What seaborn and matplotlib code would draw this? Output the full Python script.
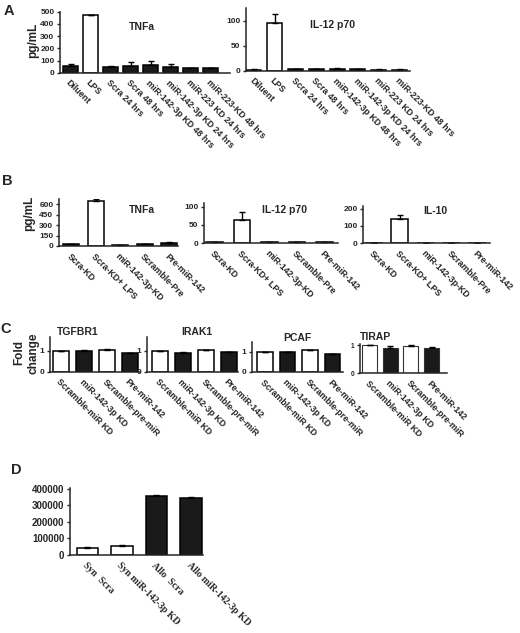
import numpy as np
import pandas as pd
import matplotlib
matplotlib.use("Agg")
import matplotlib.pyplot as plt
import seaborn as sns

sns.set_theme(style="ticks")
plt.rcParams['font.family'] = ['Liberation Sans', 'DejaVu Sans']
plt.rcParams['font.weight'] = 'bold'

# ---------------- data ----------------
a_cats = ["Diluent", "LPS", "Scra 24 hrs", "Scra 48 hrs", "miR-142-3p KD 48 hrs",
          "miR-142-3p KD 24 hrs", "miR-223 KD 24 hrs", "miR-223-KD 48 hrs"]
a_tnf = [58, 470, 43, 58, 62, 47, 35, 38]
a_tnf_err = [10, 6, 8, 28, 30, 22, 3, 4]
a_il12 = [2, 95, 3, 3, 4, 3, 2, 2]
a_il12_err = [0.5, 18, 0.5, 0.5, 0.5, 0.5, 0.5, 0.5]
a_fill = ["k", "w", "k", "k", "k", "k", "k", "k"]

b_cats = ["Scra-KD", "Scra-KD+ LPS", "miR-142-3p-KD", "Scramble-Pre", "Pre-miR-142"]
b_tnf = [30, 645, 15, 25, 45]
b_tnf_err = [5, 20, 3, 5, 10]
b_il12 = [3, 63, 3, 2, 2]
b_il12_err = [0.5, 23, 1, 0.5, 0.5]
b_il10 = [0, 140, 0, 0, 0]
b_il10_err = [0, 20, 0, 0, 0]
b_fill = ["k", "w", "k", "k", "k"]

c_cats = ["Scramble-miR KD", "miR-142-3p KD", "Scramble-pre-miR", "Pre-miR-142"]
c_tgfbr1 = [1.0, 0.98, 1.03, 0.88]
c_tgfbr1_err = [0.0, 0.03, 0.03, 0.02]
c_irak1 = [1.0, 0.90, 1.02, 0.92]
c_irak1_err = [0.0, 0.03, 0.03, 0.02]
c_pcaf = [1.0, 0.98, 1.08, 0.88]
c_pcaf_err = [0.0, 0.03, 0.04, 0.02]
c_tirap = [1.0, 0.90, 0.97, 0.90]
c_tirap_err = [0.0, 0.07, 0.02, 0.02]
c_fill = ["w", "k", "w", "k"]

d_cats = ["Syn  Scra", "Syn miR-142-3p KD", "Allo  Scra", "Allo miR-142-3p KD"]
d_vals = [45000, 52000, 358000, 342000]
d_err = [3000, 10000, 3000, 7000]
d_fill = ["w", "w", "k", "k"]

# ---------------- layout ----------------
W, H = 520, 633
fig = plt.figure(figsize=(W / 100, H / 100), dpi=100)


def make_ax(x0, x1, ytop, ybot):
    return fig.add_axes([x0 / W, 1 - ybot / H, (x1 - x0) / W, (ybot - ytop) / H])


def panel(box, cats, vals, errs, fills, xlim, ylim, yticks, width, tick_fs=6.0,
          lab_fs=6.4, lab_family=None, edge_lw=1.1, edge_col="black"):
    ax = make_ax(*box)
    df = pd.DataFrame({"cat": cats, "val": vals})
    pal = {c: f for c, f in zip(cats, fills)}
    sns.barplot(data=df, x="cat", y="val", hue="cat", palette=pal, legend=False,
                edgecolor=edge_col, linewidth=edge_lw, width=width, ax=ax,
                errorbar=None, saturation=1)
    x = np.arange(len(cats))
    ax.errorbar(x, vals, yerr=[np.zeros(len(vals)), errs], fmt="none",
                ecolor="black", elinewidth=1.0, capsize=2.5, capthick=1.0)
    ax.set_xlim(*xlim)
    ax.set_ylim(*ylim)
    ax.set_yticks(yticks)
    ax.set_xticks(x)
    kw = dict(rotation=-45, ha="left", va="top", rotation_mode="anchor",
              fontsize=lab_fs, fontweight="bold")
    if lab_family:
        kw["family"] = lab_family
    ax.set_xticklabels(cats, **kw)
    ax.set_xlabel("")
    ax.set_ylabel("")
    for s in ["top", "right"]:
        ax.spines[s].set_visible(False)
    for s in ["left", "bottom"]:
        ax.spines[s].set_linewidth(1.1)
    ax.tick_params(axis="y", length=2.5, width=1.0, pad=1.5, labelsize=tick_fs)
    ax.tick_params(axis="x", length=0, pad=4)
    for t in ax.get_yticklabels():
        t.set_fontweight("bold")
    ax.set_facecolor("none")
    return ax


# Panel A
panel((60, 230, 11.7, 72.7), a_cats, a_tnf, a_tnf_err, a_fill,
      (-0.53, 7.95), (0, 500), [0, 100, 200, 300, 400, 500], 0.75)
panel((246, 410, 8, 70.7), a_cats, a_il12, a_il12_err, a_fill,
      (-0.38, 7.5), (0, 125), [0, 50, 100], 0.72)

# Panel B
panel((59, 178, 199, 246), b_cats, b_tnf, b_tnf_err, b_fill,
      (-0.51, 4.37), (0, 672), [0, 150, 300, 450, 600], 0.66)
panel((204, 338, 203, 243), b_cats, b_il12, b_il12_err, b_fill,
      (-0.38, 4.5), (0, 110), [0, 50, 100], 0.6)
panel((363, 490, 206, 243), b_cats, b_il10, b_il10_err, b_fill,
      (-0.43, 4.5), (0, 215), [0, 100, 200], 0.67)

# Panel C
panel((50, 140, 337, 371.7), c_cats, c_tgfbr1, c_tgfbr1_err, c_fill,
      (-0.5, 3.46), (0, 1.65), [0, 1], 0.7)
panel((147, 238, 337, 371.7), c_cats, c_irak1, c_irak1_err, c_fill,
      (-0.56, 3.4), (0, 1.65), [0, 1], 0.7)
panel((252, 343, 342, 372), c_cats, c_pcaf, c_pcaf_err, c_fill,
      (-0.58, 3.47), (0, 1.5), [0, 1], 0.7)
panel((360, 447, 344, 373), c_cats, c_tirap, c_tirap_err, c_fill,
      (-0.46, 3.75), (0, 1.04), [0, 1], 0.72, tick_fs=4.8, edge_lw=0.8,
      edge_col="#333333")

# Panel D
panel((70, 203, 488, 555), d_cats, d_vals, d_err, d_fill,
      (-0.5, 3.35), (0, 405000), [0, 100000, 200000, 300000, 400000], 0.62,
      tick_fs=7.0, lab_fs=7.0, lab_family=["Liberation Serif", "DejaVu Serif"])

# ---------------- texts ----------------
def ftext(x, y, s, fs, **kw):
    fig.text(x / W, 1 - y / H, s, fontsize=fs, fontweight="bold",
             ha=kw.pop("ha", "center"), va=kw.pop("va", "center"), **kw)

ftext(9, 11, "A", 10.5)
ftext(7, 181, "B", 10.5)
ftext(6, 329, "C", 10.5)
ftext(16, 470, "D", 10.5)

ftext(33, 40, "pg/mL", 8.5, rotation=90)
ftext(29, 213, "pg/mL", 8.5, rotation=90)
ftext(19, 353, "Fold", 8.5, rotation=90)
ftext(33, 353, "change", 8.5, rotation=90)

ftext(142, 27, "TNFa", 7.5)
ftext(332, 25, "IL-12 p70", 7.5)
ftext(142, 210, "TNFa", 7.5)
ftext(285, 210, "IL-12 p70", 7.5)
ftext(435, 211, "IL-10", 7.5)
ftext(78, 332, "TGFBR1", 7.5)
ftext(197, 332, "IRAK1", 7.5)
ftext(297, 338, "PCAF", 7.5)
ftext(375, 337, "TIRAP", 7.5)

fig.savefig("out.png", dpi=100)
